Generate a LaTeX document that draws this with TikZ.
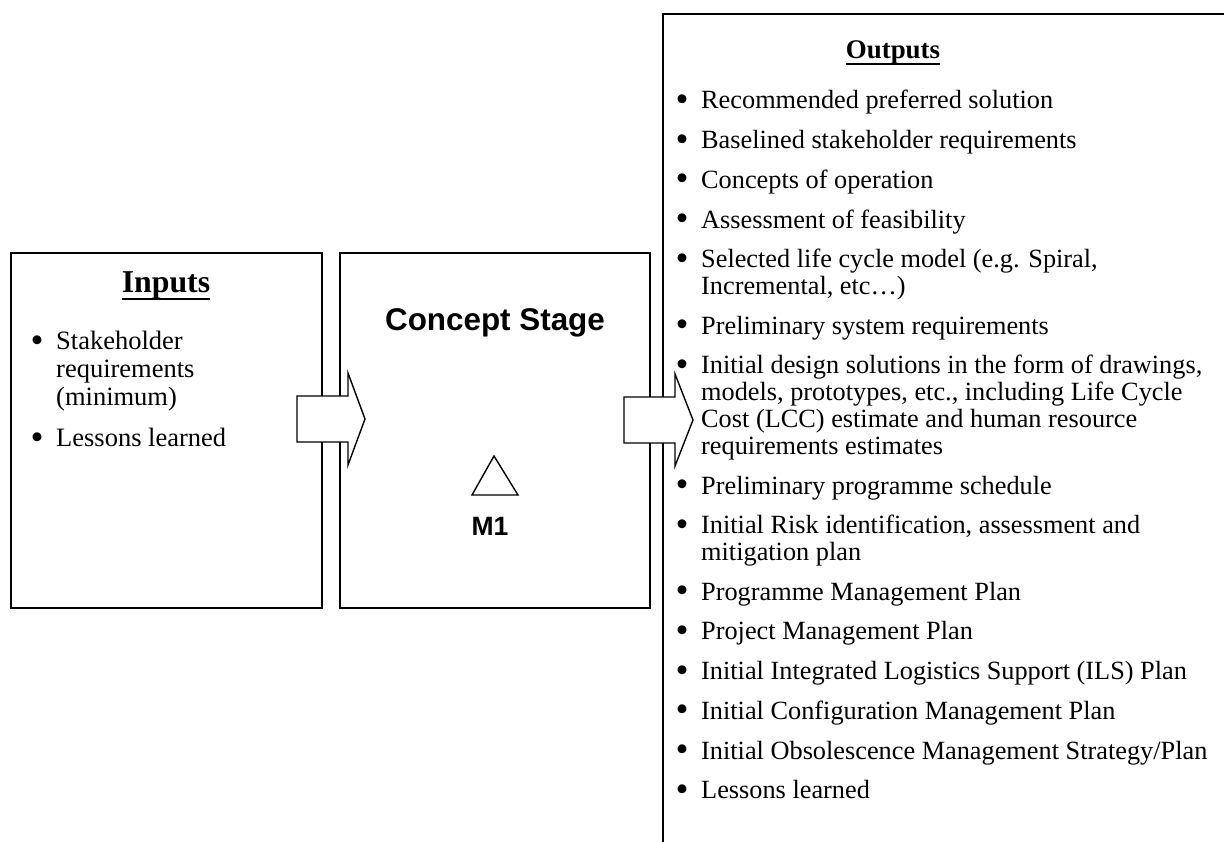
\documentclass[tikz,border=0pt]{standalone}
\usepackage{fontspec}
\setmainfont{Liberation Serif}
\newfontfamily\headsans{Liberation Sans}
% large round bullet hung to the left of the text start
\newcommand\bigdot{\raisebox{-2.6pt}{\fontsize{37}{37}\selectfont\textbullet}}
\newcommand\bl{\leavevmode\llap{\makebox[0pt]{\bigdot}\hspace{19pt}}}
\begin{document}
\begin{tikzpicture}[x=1pt,y=-1pt,
  panel/.style={draw, line width=1.9pt, fill=white, inner sep=0pt, anchor=north west},
  blockarrow/.style={draw, line width=1.4pt, fill=white, line join=miter},
  txt/.style={inner sep=0pt, anchor=base west},
  heading/.style={inner sep=0pt, anchor=base},
  headline/.style={line width=2.2pt},
]
\useasboundingbox (0,0) rectangle (1224,842);
\fill[white] (0,0) rectangle (1224,842);

% the three panels
\node[panel, minimum width=311pt, minimum height=355pt] (inbox) at (10,252) {};
\node[panel, minimum width=310pt, minimum height=355pt] (stagebox) at (339,252) {};
\coordinate (outtopright) at (1224,14);
\coordinate (outcorner) at (663,14);
\coordinate (outbottom) at (663,842);
\draw[line width=1.9pt] (outtopright) -- (outcorner) -- (outbottom);

% block arrows between the panels
\draw[blockarrow] (297,396) -- (348,396) -- (348,373) -- (365,419) -- (348,465)
  -- (348,442) -- (297,442) -- cycle;
\draw[blockarrow] (624,397) -- (675,397) -- (675,374) -- (693,420) -- (675,466)
  -- (675,443) -- (624,443) -- cycle;

% inputs
\node[heading] (inhead) at (166,293)
  {\fontsize{31.8}{36}\selectfont\bfseries Inputs};
\draw[headline] ([yshift=-6pt]inhead.base west) -- ([yshift=-6pt]inhead.base east);
\node[txt] (inlist) at (56,350) {%
  \begin{minipage}[t]{260pt}
  \fontsize{26.5}{27.5}\selectfont\raggedright
  \setlength\parskip{14.5pt}\setlength\parindent{0pt}%
  \bl Stakeholder\\ requirements\\ (minimum)\par
  \bl Lessons learned\par
  \end{minipage}};

% concept stage
\node[heading] (stage) at (495,331)
  {\headsans\bfseries\fontsize{31.4}{36}\selectfont Concept Stage};
\draw[line width=1.4pt] (494,456) -- (472,495) -- (518,495) -- cycle;
\node[heading] (mone) at (490,535)
  {\headsans\bfseries\fontsize{26.5}{30}\selectfont M1};

% outputs
\node[heading] (outhead) at (893,59)
  {\fontsize{26.9}{32}\selectfont\bfseries Outputs};
\draw[headline] ([yshift=-5pt]outhead.base west) -- ([yshift=-5pt]outhead.base east);
\node[txt] (outlist) at (701,109) {%
  \begin{minipage}[t]{520pt}
  \fontsize{26.3}{26.8}\selectfont\raggedright
  \setlength\parskip{12.9pt}\setlength\parindent{0pt}%
  \bl Recommended preferred solution\par
  \bl Baselined stakeholder requirements\par
  \bl Concepts of operation\par
  \bl Assessment of feasibility\par
  \bl Selected life cycle model (e.g. Spiral,\\ Incremental, etc…)\par
  \bl Preliminary system requirements\par
  \bl Initial design solutions in the form of drawings,\\ models, prototypes, etc., including Life Cycle\\ Cost (LCC) estimate and human resource\\ requirements estimates\par
  \bl Preliminary programme schedule\par
  \bl Initial Risk identification, assessment and\\ mitigation plan\par
  \bl Programme Management Plan\par
  \bl Project Management Plan\par
  \bl Initial Integrated Logistics Support (ILS) Plan\par
  \bl Initial Configuration Management Plan\par
  \bl Initial Obsolescence Management Strategy/Plan\par
  \bl Lessons learned\par
  \end{minipage}};
\end{tikzpicture}
\end{document}
